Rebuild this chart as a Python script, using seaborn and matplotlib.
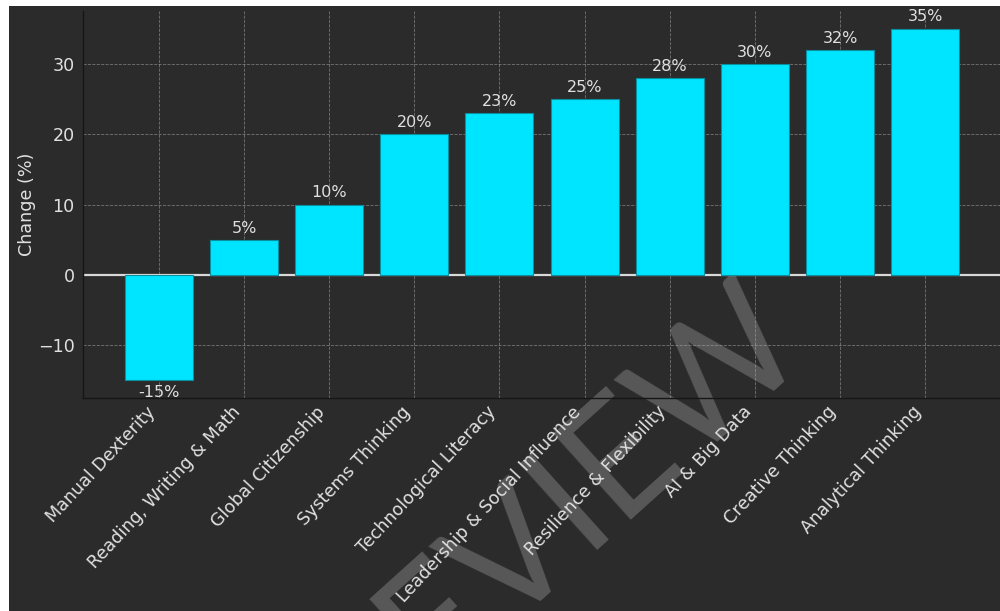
import matplotlib
matplotlib.use("Agg")
import matplotlib.pyplot as plt
import seaborn as sns
import pandas as pd
from matplotlib.patches import Rectangle

skills = ["Manual Dexterity", "Reading, Writing & Math", "Global Citizenship",
          "Systems Thinking", "Technological Literacy", "Leadership & Social Influence",
          "Resilience & Flexibility", "AI & Big Data", "Creative Thinking",
          "Analytical Thinking"]
change = [-15, 5, 10, 20, 23, 25, 28, 30, 32, 35]

BG = "#2b2b2b"
TXT = "#e0e0e0"
BAR = "#00e5ff"

sns.set_theme(style="dark")
plt.rcParams["font.family"] = ["DejaVu Sans"]

df = pd.DataFrame({"skill": skills, "change": change})

fig = plt.figure(figsize=(10, 6.11), dpi=100, facecolor=BG)
ax = fig.add_axes([0.083, 1 - 398 / 611, 0.918, (398 - 11) / 611])
ax.set_facecolor("none")

sns.barplot(data=df, x="skill", y="change", color=BAR, saturation=1, width=0.8,
            edgecolor="#0a8fa0", linewidth=0.8, ax=ax, zorder=3)

ax.set_xlim(-0.89, 9.89)
ax.set_ylim(-17.5, 37.5)
ax.set_yticks([-10, 0, 10, 20, 30])
ax.set_yticklabels(["\u221210", "0", "10", "20", "30"])

ax.grid(True, linestyle="--", color="#bdbdbd", alpha=0.5, linewidth=0.6, zorder=0)
ax.axhline(0, color="#d8d8d8", linewidth=1.6, zorder=2)

for sp in ["top", "right"]:
    ax.spines[sp].set_visible(False)
for sp in ["left", "bottom"]:
    ax.spines[sp].set_color("#161616")
    ax.spines[sp].set_linewidth(1.0)

ax.tick_params(axis="both", direction="in", length=4, width=1, color="#dddddd",
               labelcolor=TXT, labelsize=12.6)
ax.tick_params(axis="y", pad=6)
plt.setp(ax.get_xticklabels(), rotation=47, ha="right", rotation_mode="default")

ax.set_xlabel("")
ax.set_ylabel("Change (%)", color=TXT, fontsize=12.6, labelpad=1)

for cont in ax.containers:
    ax.bar_label(cont, labels=[f"{v}%" for v in change], padding=3,
                 color=TXT, fontsize=11.5)

# watermark (drawn beneath the axes content)
fig.text(0.286, 1 - 817 / 611, "PREVIEW", rotation=42, rotation_mode="anchor",
         ha="left", va="baseline", fontsize=116, color="#585858", zorder=-1,
         family=["Lato", "DejaVu Sans"], fontweight="normal")

# white border strips
fig.patches.append(Rectangle((0, 0), 9 / 1000, 1, transform=fig.transFigure,
                             facecolor="white", edgecolor="none", zorder=20))
fig.patches.append(Rectangle((0, 1 - 6 / 611), 1, 6 / 611, transform=fig.transFigure,
                             facecolor="white", edgecolor="none", zorder=20))

fig.savefig("out.png", dpi=100, facecolor=BG)
